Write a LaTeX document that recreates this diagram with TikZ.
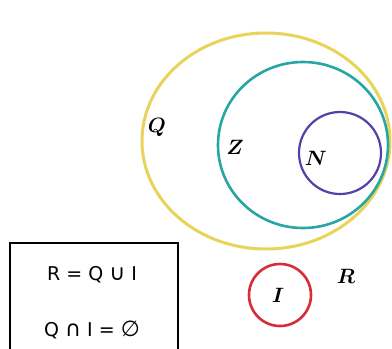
\documentclass[tikz,border=0pt]{standalone}
\usepackage{fontspec}
\newfontfamily\eqfont{DejaVu Sans}
\definecolor{qyel}{RGB}{232,212,90}
\definecolor{zteal}{RGB}{40,165,165}
\definecolor{npur}{RGB}{85,65,165}
\definecolor{ired}{RGB}{215,45,55}
\begin{document}
\begin{tikzpicture}[x=1pt,y=-1pt,
  setlab/.style={font=\fontsize{22}{22}\selectfont\boldmath, inner sep=0pt},
  eqtxt/.style={font=\eqfont\fontsize{19}{19}\selectfont, inner sep=0pt}]
\useasboundingbox (0,0) rectangle (392,349);
\fill[white] (0,0) rectangle (392,349);
\draw[qyel, line width=3pt] (266,141) ellipse [x radius=124, y radius=108];
\draw[zteal, line width=2.6pt] (303,145) ellipse [x radius=85, y radius=83];
\draw[npur, line width=2.2pt] (340,153) circle [radius=41];
\draw[ired, line width=2.6pt] (280,295) circle [radius=31];
\node[setlab] (Q) at (157,127) {$Q$};
\node[setlab] (Z) at (235,147) {$Z$};
\node[setlab] (N) at (316,158) {$N$};
\node[setlab] (I) at (278,295) {$I$};
\node[setlab] (R) at (346,276) {$R$};
\draw[black, line width=1.5pt] (10,352) -- (10,243) -- (178,243) -- (178,352);
\node[eqtxt] (e1) at (92,275) {R = Q \scalebox{1.15}{∪} I};
\node[eqtxt] (e2) at (92,330) {Q \scalebox{1.15}{∩} I = \scalebox{1.15}{∅}};
\end{tikzpicture}
\end{document}
